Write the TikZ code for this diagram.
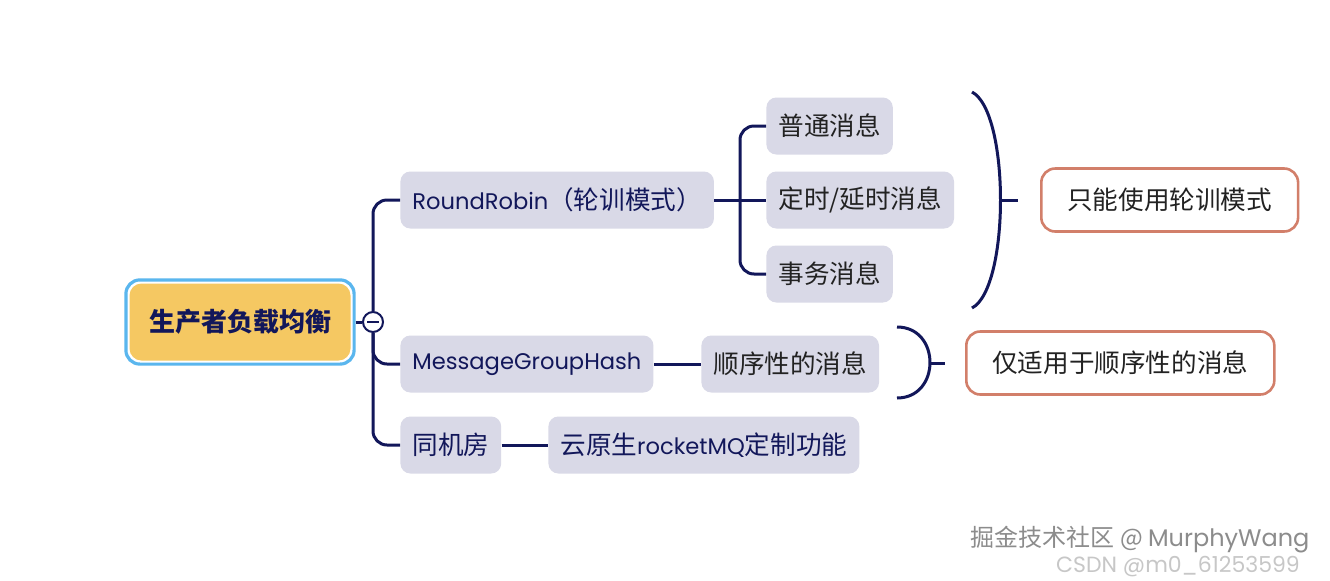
\documentclass[tikz,border=0pt]{standalone}
\usepackage{fontspec}
\setmainfont{Noto Sans CJK SC}
\newfontfamily\lat{Poppins}
\usetikzlibrary{positioning,fit,calc}
\definecolor{navy}{HTML}{12175A}
\definecolor{nodegray}{HTML}{D9D9E7}
\definecolor{notered}{HTML}{D27F6A}
\definecolor{rootyellow}{HTML}{F5C862}
\definecolor{skyblue}{HTML}{5AB6EE}
\definecolor{ink}{HTML}{222222}
\newcommand\latfont{\lat\fontsize{11.3}{15}\selectfont}
\begin{document}
\begin{tikzpicture}[x=0.5pt, y=-0.5pt,
  topic/.style={fill=nodegray, rounded corners=5pt, minimum height=28.5pt, inner xsep=6pt,
                text=navy, font=\fontsize{12.8}{15}\selectfont, anchor=west},
  sub/.style  ={topic, text=ink},
  note/.style ={draw=notered, line width=1.3pt, fill=white, rounded corners=7pt, minimum height=31.5pt,
                inner xsep=13pt, text=ink, font=\fontsize{12.8}{15}\selectfont, anchor=west},
  link/.style ={draw=navy, line width=1.5pt, rounded corners=7pt},
  brace/.style={draw=navy, line width=1.5pt},
]
\useasboundingbox[fill=white] (0,0) rectangle (1330,580);

% root and its frame
\node[fill=rootyellow, rounded corners=6pt, minimum width=110.5pt, minimum height=38.5pt,
      text=navy, font=\fontsize{13}{15}\selectfont\bfseries] (root) at (240,322) {生产者负载均衡};
\node[fit=(root), inner sep=1.6pt, draw=skyblue, line width=1.6pt, rounded corners=7pt] (rootframe) {};
\node[circle, draw=navy, line width=1pt, fill=white, minimum size=10pt, inner sep=0pt] (hub) at (373,322) {};
\draw[navy, line width=1pt] ($(hub.west)+(5,0)$) -- ($(hub.east)+(-5,0)$);

% first level
\node[topic] (rr)   at (400,200) {{\latfont RoundRobin}（轮训模式）};
\node[topic] (mgh)  at (400,364) {{\latfont MessageGroupHash}};
\node[topic] (sjf)  at (400,445) {同机房};

% second level
\node[sub]   (pt)   at (766,126) {普通消息};
\node[sub]   (ds)   at (766,200) {定时/延时消息};
\node[sub]   (sw)   at (766,274) {事务消息};
\node[sub]   (seq)  at (701,364) {顺序性的消息};
\node[topic] (cloud) at (548,445) {云原生{\latfont rocketMQ}定制功能};

% summaries
\node[note]  (only) at (1040,200) {只能使用轮训模式};
\node[note]  (fit2) at (965,363)  {仅适用于顺序性的消息};

% connectors
\draw[navy, line width=1.5pt, dash pattern=on 4pt off 2pt] (rootframe.east) -- (hub.west);
\draw[link] (hub.north) |- (rr.west);
\draw[link] (hub.south) |- (mgh.west);
\draw[link] (hub.south) |- (sjf.west);
\coordinate (j1) at (740,200);
\draw[link] (rr.east) -- (ds.west);
\draw[link] (j1) |- (pt.west);
\draw[link] (j1) |- (sw.west);
\draw[link] (mgh.east) -- (seq.west);
\draw[link] (sjf.east) -- (cloud.west);

% braces
\coordinate (b1) at (1000,200);
\draw[brace] (972,92) .. controls (1010,112) and (1010,288) .. (972,308);
\draw[brace] (b1) -- ++(18,0);
\coordinate (b2) at (930,363);
\draw[brace] (897,327) .. controls (941,327) and (941,398) .. (897,398);
\draw[brace] (b2) -- ++(15,0);

% watermarks
\node[text=black!45, font=\fontsize{12}{14}\selectfont] (juejin) at (1140,540) {掘金技术社区 @ {\lat MurphyWang}};
\node[text=black!22, font=\lat\fontsize{11}{13}\selectfont] (csdn) at (1178,567) {CSDN @m0\_61253599};
\end{tikzpicture}
\end{document}
